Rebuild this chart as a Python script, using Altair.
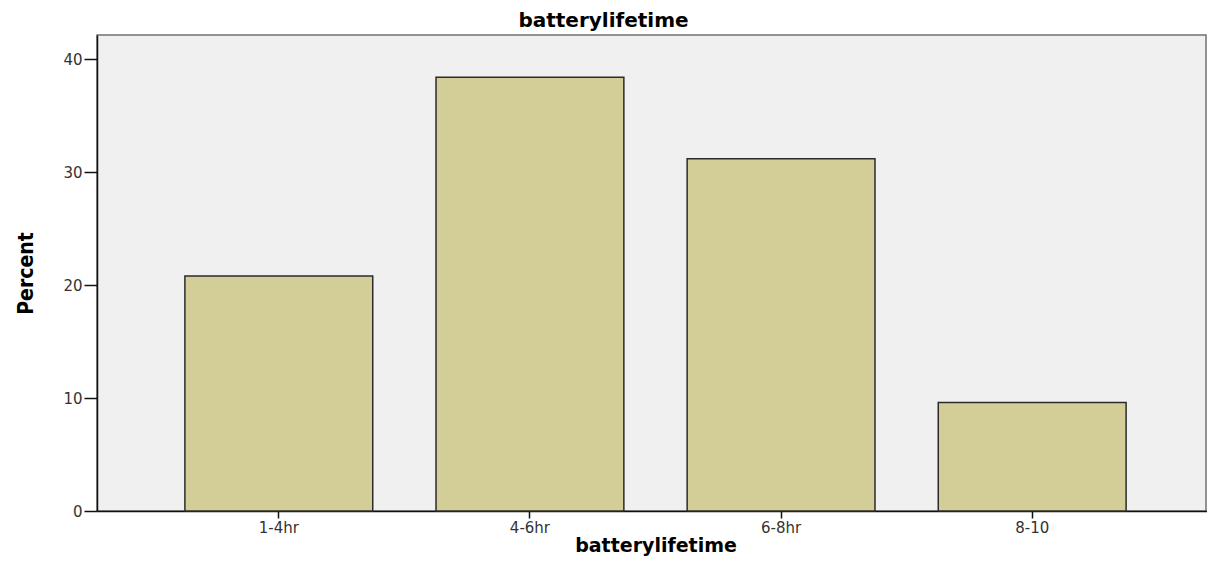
import altair as alt
import pandas as pd

categories = ["1-4hr", "4-6hr", "6-8hr", "8-10"]
percents = [20.8, 38.4, 31.2, 9.6]
y_ticks = [0, 10, 20, 30, 40]

df = pd.DataFrame({"batterylifetime": categories, "Percent": percents})

chart = alt.Chart(df).mark_bar(
    fill="#d3ce98", stroke="#2b2b2b", strokeWidth=1.5
).encode(
    x=alt.X(
        "batterylifetime:N",
        sort=categories,
        scale=alt.Scale(range=[0, 1117], paddingInner=0.252, paddingOuter=0.35),
        axis=alt.Axis(
            title="batterylifetime",
            labelAngle=0,
            labelFont="DejaVu Sans",
            labelFontSize=15,
            labelColor="#333333",
            labelPadding=2,
            tickSize=7,
            tickColor="#111111",
            tickWidth=1.5,
            domainColor="#111111",
            domainWidth=1.5,
            titleFont="DejaVu Sans",
            titleFontSize=19,
            titleFontWeight="bold",
            titleColor="#000000",
            titleBaseline="alphabetic",
            titleY=40,
        ),
    ),
    y=alt.Y(
        "Percent:Q",
        scale=alt.Scale(domain=[0, 42.15], nice=False),
        axis=alt.Axis(
            title="Percent",
            values=y_ticks,
            grid=False,
            labelFont="DejaVu Sans",
            labelFontSize=15,
            labelColor="#333333",
            labelPadding=2,
            tickSize=13,
            tickColor="#111111",
            tickWidth=1.5,
            domainColor="#111111",
            domainWidth=1.5,
            titleFont="DejaVu Sans Condensed, Liberation Sans, sans-serif",
            titleFontSize=21,
            titleFontWeight="bold",
            titleColor="#000000",
            titleBaseline="alphabetic",
            titleX=-65,
        ),
    ),
).properties(
    width=1109,
    height=476,
    title=alt.TitleParams(
        text="batterylifetime",
        font="DejaVu Sans",
        fontSize=20,
        fontWeight="bold",
        color="#000000",
        anchor="middle",
        baseline="alphabetic",
        offset=8,
        dx=-48,
        dy=20,
    ),
    autosize=alt.AutoSizeParams(type="none"),
    padding={"left": 89, "top": 27, "right": 1, "bottom": 45},
).configure_view(
    fill="#f0f0f0", stroke="#707070", strokeWidth=1.5
)

chart.save("out.html", embed_options={"renderer": "svg", "actions": False})
